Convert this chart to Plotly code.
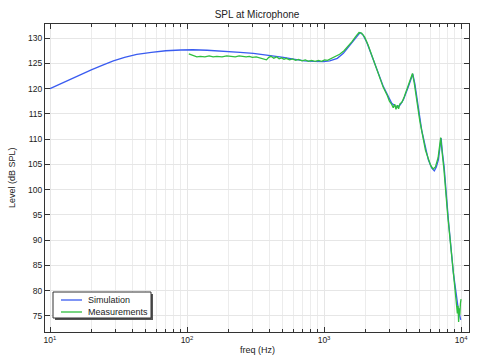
import plotly.graph_objects as go

# Simulation (blue)
sim_freq = [10, 12, 14, 17, 20, 24, 29, 35, 43, 55, 70, 90, 110, 140, 206, 244,
            305, 403, 505, 614, 720, 836, 989, 1100, 1250, 1384, 1500, 1592, 1700, 1832,
            1930, 2050, 2290, 2710, 3120, 3395, 3600, 3795, 4130, 4300, 4440, 4600, 4750,
            5160, 5770, 6100, 6380, 6600, 6830, 7000, 7150, 7300, 7520, 8080, 8790, 9560, 9950]
sim_level = [120.0, 121.0, 121.85, 122.9, 123.7, 124.6, 125.5, 126.2, 126.8, 127.2, 127.5,
             127.65, 127.7, 127.6, 127.4, 127.2, 127.0, 126.6, 126.2, 125.8, 125.5, 125.4,
             125.35, 125.5, 126.0, 127.0, 128.2, 129.0, 130.2, 131.1, 130.6, 129.2, 125.7,
             120.4, 117.1, 116.3, 116.8, 117.8, 120.4, 121.8, 122.9, 121.0, 118.4, 111.8,
             105.9, 104.3, 103.7, 104.5, 105.9, 108.0, 110.2, 107.5, 104.6, 94.0, 83.5,
             76.2, 74.2]

# Measurements (green)
meas_freq = [103, 110, 118, 125, 135, 145, 155, 165, 180, 195, 210, 225, 240, 255, 270,
             285, 300, 320, 340, 360, 380, 395, 410, 430, 450, 470, 490, 510, 530, 560,
             590, 620, 650, 690, 730, 770, 810, 860, 910, 960, 1010, 1060, 1120, 1200,
             1300, 1400, 1500, 1600, 1700, 1800, 1880, 1980, 2100, 2300, 2500, 2700, 2900,
             3000, 3100, 3200, 3280, 3350, 3420, 3500, 3580, 3700, 3850, 4000, 4200, 4350,
             4420, 4550, 4700, 5000, 5500, 6000, 6250, 6500, 6800, 7000, 7100, 7250, 7500,
             8000, 8500, 8900, 9200, 9400, 9500, 9600, 9700, 9800, 9900, 10000]
meas_level = [126.9, 126.6, 126.3, 126.4, 126.3, 126.5, 126.3, 126.4, 126.3, 126.5, 126.4,
              126.3, 126.5, 126.4, 126.3, 126.4, 126.2, 126.3, 126.1, 126.0, 125.7, 126.2,
              126.4, 126.0, 126.3, 125.9, 126.1, 125.8, 126.0, 125.7, 125.9, 125.6, 125.8,
              125.5, 125.7, 125.4, 125.6, 125.4, 125.6, 125.4, 125.7, 125.6, 125.9, 126.3,
              126.8, 127.5, 128.4, 129.3, 130.3, 131.1, 131.0, 130.2, 128.6, 125.5, 122.6,
              120.3, 118.6, 117.5, 117.0, 116.2, 116.9, 115.9, 116.7, 116.0, 117.0, 117.3,
              118.4, 119.8, 121.5, 122.8, 123.0, 121.2, 118.3, 113.6, 107.8, 104.8, 104.1,
              104.5, 106.3, 108.5, 110.3, 107.8, 104.0, 94.8, 87.3, 82.0, 79.0, 75.5, 77.0,
              73.8, 76.5, 75.2, 77.5, 78.3]

series_names = ["Simulation", "Measurements"]
series_colors = ["#3a5cf0", "#2fbf3f"]

x_tickvals = [10, 100, 1000, 10000]
x_ticktext = ["10<sup>1</sup>", "10<sup>2</sup>", "10<sup>3</sup>", "10<sup>4</sup>"]
x_minor = [m * d for d in (10, 100, 1000) for m in range(2, 10)]

FONT = "Liberation Sans, Arial, sans-serif"
TXT = "#222222"

fig = go.Figure()
fig.add_trace(go.Scatter(x=sim_freq, y=sim_level, mode="lines", name=series_names[0],
                         line=dict(color=series_colors[0], width=1.3), showlegend=False))
fig.add_trace(go.Scatter(x=meas_freq, y=meas_level, mode="lines", name=series_names[1],
                         line=dict(color=series_colors[1], width=1.3), showlegend=False))

axis_common = dict(showline=True, linecolor="#333333", linewidth=1, mirror="allticks",
                   ticks="inside", tickcolor="#333333", ticklen=5,
                   showgrid=True, gridcolor="#e6e6e6", gridwidth=1, zeroline=False,
                   tickfont=dict(family=FONT, size=8.5, color=TXT))

# plot-area pixel geometry -> paper fractions for the legend box
L, R, T, B = 45, 469, 24, 332
W, H = R - L, B - T
px = lambda v: (v - L) / W
py = lambda v: (B - v) / H

shapes = [
    # shadow
    dict(type="rect", xref="paper", yref="paper", x0=px(55), x1=px(153), y0=py(320), y1=py(294),
         fillcolor="#555555", line=dict(width=0), layer="above"),
    # box
    dict(type="rect", xref="paper", yref="paper", x0=px(53), x1=px(151), y0=py(318), y1=py(292),
         fillcolor="white", line=dict(color="#333333", width=1), layer="above"),
]
annotations = [
    dict(text="freq (Hz)", xref="paper", yref="paper", x=0.5, y=0,
         yshift=-18, xanchor="center", yanchor="middle", showarrow=False,
         font=dict(family=FONT, size=9, color=TXT)),
    dict(text="Level (dB SPL)", xref="paper", yref="paper", x=0, y=0.5,
         xshift=-33, textangle=-90, xanchor="center", yanchor="middle",
         showarrow=False, font=dict(family=FONT, size=9, color=TXT)),
]
for i, (name, col) in enumerate(zip(series_names, series_colors)):
    yy = 300 + 12 * i
    shapes.append(dict(type="line", xref="paper", yref="paper", x0=px(61), x1=px(82),
                       y0=py(yy), y1=py(yy), line=dict(color=col, width=1.3), layer="above"))
    annotations.append(dict(text=name, xref="paper", yref="paper", x=px(86), y=py(yy),
                            xanchor="left", yanchor="middle", showarrow=False,
                            font=dict(family=FONT, size=9, color=TXT)))

fig.update_layout(
    width=480, height=359,
    margin=dict(l=L, r=480 - R, t=T, b=359 - B),
    paper_bgcolor="white", plot_bgcolor="white",
    font=dict(family=FONT, size=9, color=TXT),
    title=dict(text="SPL at Microphone", x=(L + R) / 2 / 480, xanchor="center",
               y=1 - 14 / 359, yref="container", yanchor="middle",
               font=dict(family=FONT, size=10, color=TXT)),
    showlegend=False,
    xaxis=dict(type="log", range=[0.9635, 4.058], tickmode="array",
               tickvals=x_tickvals, ticktext=x_ticktext,
               minor=dict(tickmode="array", tickvals=x_minor, ticks="inside", ticklen=3,
                          tickcolor="#333333", showgrid=True, gridcolor="#ececec"),
               **axis_common),
    yaxis=dict(range=[71.8, 132.8], tick0=75, dtick=5, **axis_common),
    shapes=shapes,
    annotations=annotations,
)

fig.write_html("out.html", config={"displayModeBar": False},
               post_script="document.body.style.margin='0';")
